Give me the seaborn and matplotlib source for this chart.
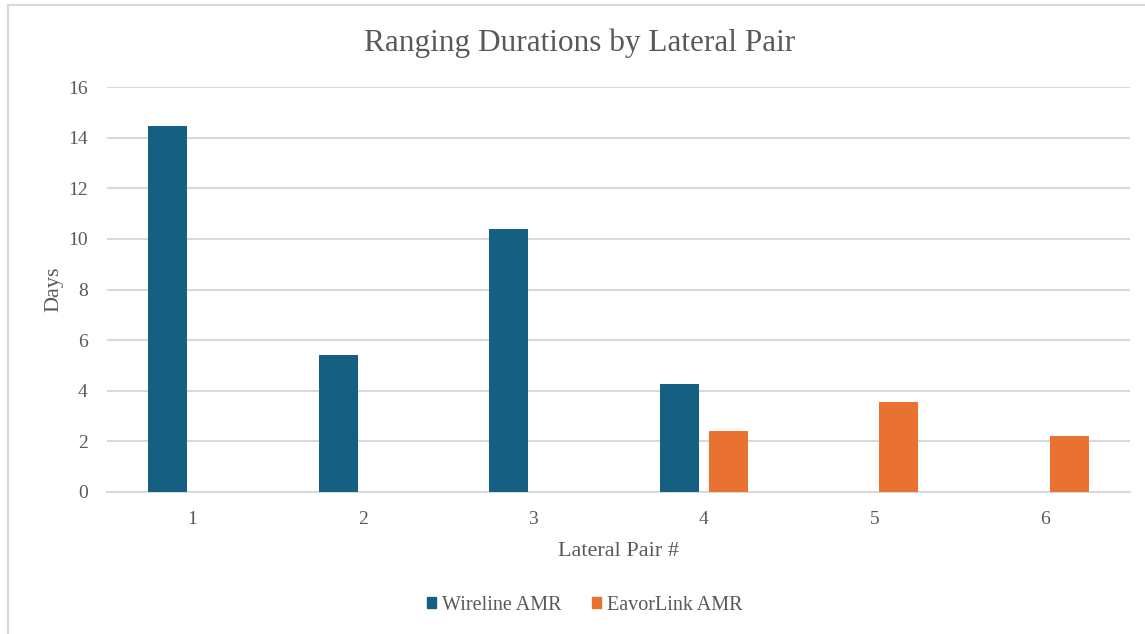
import matplotlib
matplotlib.use("Agg")
import matplotlib.pyplot as plt
import seaborn as sns
import pandas as pd
import numpy as np
from matplotlib.patches import Rectangle

pairs = ["1", "2", "3", "4", "5", "6"]
wireline = [14.46, 5.41, 10.39, 4.28, np.nan, np.nan]
eavorlink = [np.nan, np.nan, np.nan, 2.40, 3.54, 2.22]
series_names = ["Wireline AMR", "EavorLink AMR"]
colors = ["#156082", "#E97132"]
y_ticks = [0, 2, 4, 6, 8, 10, 12, 14, 16]

rows = []
for p, w, e in zip(pairs, wireline, eavorlink):
    rows.append({"pair": p, "series": series_names[0], "days": w})
    rows.append({"pair": p, "series": series_names[1], "days": e})
df = pd.DataFrame(rows).dropna()

sns.set_theme(style="white")
plt.rcParams["font.family"] = ["Liberation Serif", "DejaVu Serif"]
text_color = "#595959"
grid_color = "#d9d9d9"

fig = plt.figure(figsize=(11.45, 6.34), dpi=100)
W, H = 1145, 634
ax = fig.add_axes([107 / W, 1 - 492 / H, (1130 - 107) / W, (492 - 87) / H])

sns.barplot(data=df, x="pair", y="days", hue="series", order=pairs,
            hue_order=series_names, palette=colors, saturation=1,
            width=0.575, gap=0.2, linewidth=0, ax=ax, legend=False,
            errorbar=None, zorder=3)

ax.set_ylim(0, 16)
ax.set_xlim(-0.5, len(pairs) - 0.5)
ax.set_yticks(y_ticks)
ax.set_yticklabels([str(t) for t in y_ticks])
ax.yaxis.grid(True, color=grid_color, linewidth=1.5, zorder=0)
ax.xaxis.grid(False)
for s in ["top", "right", "left"]:
    ax.spines[s].set_visible(False)
ax.spines["bottom"].set_color(grid_color)
ax.spines["bottom"].set_linewidth(1.5)
ax.tick_params(axis="both", length=0, labelsize=14, colors=text_color)
ax.tick_params(axis="y", pad=14)
ax.tick_params(axis="x", pad=14)
ax.set_xlabel("Lateral Pair #", fontsize=16, color=text_color, labelpad=10)
ax.set_ylabel("Days", fontsize=16, color=text_color, labelpad=3)

fig.text(580 / W, 1 - 43 / H, "Ranging Durations by Lateral Pair",
         ha="center", va="center", fontsize=22.5, color=text_color)

handles = [Rectangle((0, 0), 1, 1, color=c) for c in colors]
fig.legend(handles, series_names, loc="center", bbox_to_anchor=(585 / W, 1 - 605 / H),
           ncol=2, frameon=False, fontsize=14.5, labelcolor=text_color,
           handlelength=0.45, handleheight=0.45, handletextpad=0.3, columnspacing=1.5)

fig.patches.append(Rectangle((8 / W, -0.05), 1.2, 1 - 5 / H + 0.05,
                             transform=fig.transFigure, fill=False,
                             edgecolor=grid_color, linewidth=1.5))

fig.savefig("out.png", dpi=100)
